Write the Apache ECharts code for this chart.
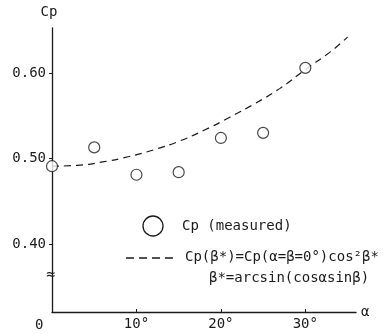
<!DOCTYPE html>
<html>
<head>
<meta charset="utf-8">
<script src="https://cdn.jsdelivr.net/npm/echarts@6/dist/echarts.min.js"></script>
<style>
    html, body {margin: 0; padding: 0; background: #fff;}
    #chart {width: 392px; height: 334px;}
</style>
</head>
<body>
<div id="chart"></div>
<script>
    // measured Cp against alpha (deg)
    var alphaMeasured = [0, 5, 10, 15, 20, 25, 30];
    var cpMeasured = [0.491, 0.513, 0.481, 0.484, 0.524, 0.530, 0.606];

    // dashed curve
    var alphaCurve = [0, 3, 6, 9, 12, 15, 18, 21, 24, 27, 30, 33, 35];
    var cpCurve = [0.491, 0.492, 0.496, 0.502, 0.510, 0.520, 0.533, 0.548, 0.564, 0.582, 0.604, 0.625, 0.642];

    var yTicks = [0.40, 0.50, 0.60];
    var xTicks = [10, 20, 30];

    function pairs(xs, ys) {
        var out = [];
        for (var i = 0; i < xs.length; i++) {
            out.push([xs[i], ys[i]]);
        }
        return out;
    }

    var font = '"DejaVu Sans Mono", monospace';
    var ink = '#1a1a1a';

    var option = {
        backgroundColor: '#fff',
        animation: false,
        grid: {left: 52, right: 36, top: 28, bottom: 22},
        xAxis: {
            type: 'value',
            min: 0,
            max: 36,
            name: 'α',
            nameLocation: 'end',
            nameGap: 5,
            nameTextStyle: {fontFamily: font, fontSize: 14, color: ink},
            splitLine: {show: false},
            axisLine: {lineStyle: {color: ink, width: 1.3}},
            axisTick: {inside: true, length: 3, customValues: xTicks, lineStyle: {color: ink}},
            axisLabel: {
                customValues: xTicks,
                margin: 5,
                fontFamily: font,
                fontSize: 14,
                color: ink,
                formatter: '{value}°'
            }
        },
        yAxis: {
            type: 'value',
            min: 0.3205,
            max: 0.6526,
            name: 'Cp',
            nameLocation: 'end',
            nameGap: 9,
            nameTextStyle: {fontFamily: font, fontSize: 14, color: ink, padding: [0, 6, 0, 0]},
            splitLine: {show: false},
            axisLine: {lineStyle: {color: ink, width: 1.3}},
            axisTick: {length: 3, customValues: yTicks, lineStyle: {color: ink}},
            axisLabel: {
                customValues: yTicks,
                margin: 6,
                fontFamily: font,
                fontSize: 14,
                color: ink,
                formatter: function (v) { return v.toFixed(2); }
            }
        },
        graphic: [
            // origin label and axis break
            {type: 'text', left: 35, top: 318, style: {text: '0', font: '14px ' + font, fill: ink}},
            {type: 'rect', shape: {x: 47, y: 272, width: 10, height: 10}, style: {fill: '#fff'}},
            {type: 'text', left: 46, top: 268, style: {text: '≈', font: '15px ' + font, fill: ink}},
            // legend
            {type: 'circle', shape: {cx: 153, cy: 226, r: 10}, style: {fill: '#fff', stroke: ink, lineWidth: 1.3}},
            {type: 'text', left: 182, top: 219, style: {text: 'Cp (measured)', font: '14px ' + font, fill: ink}},
            {type: 'line', shape: {x1: 126, y1: 258, x2: 177, y2: 258}, style: {stroke: ink, lineWidth: 1.3, lineDash: [8, 5]}},
            {type: 'text', left: 185, top: 250, style: {text: 'Cp(β*)=Cp(α=β=0°)cos²β*', font: '14px ' + font, fill: ink}},
            {type: 'text', left: 209, top: 271, style: {text: 'β*=arcsin(cosαsinβ)', font: '14px ' + font, fill: ink}}
        ],
        series: [
            {
                name: 'curve',
                type: 'line',
                data: pairs(alphaCurve, cpCurve),
                smooth: true,
                symbol: 'none',
                lineStyle: {color: ink, width: 1.2, type: [7, 5]},
                z: 2
            },
            {
                name: 'Cp (measured)',
                type: 'scatter',
                data: pairs(alphaMeasured, cpMeasured),
                symbol: 'circle',
                symbolSize: 11,
                itemStyle: {color: '#fff', borderColor: ink, borderWidth: 1.2},
                z: 3
            }
        ]
    };

    var myChart = echarts.init(document.getElementById('chart'));
    myChart.setOption(option);
</script>
</body>
</html>
